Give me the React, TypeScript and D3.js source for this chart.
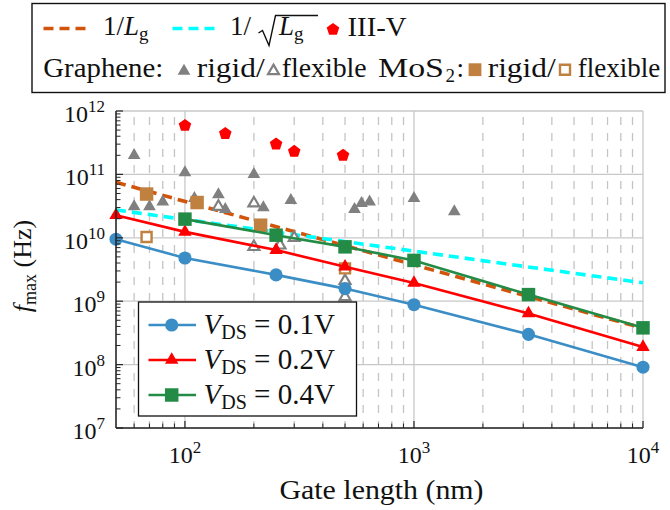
import React from 'react';
import * as d3 from 'd3';

// ---------- data ----------
const gateLength = [50, 100, 250, 500, 1000, 3162, 10000];
const fmaxVds01 = [9.5e9, 4.8e9, 2.6e9, 1.58e9, 8.8e8, 3.0e8, 9.1e7];
const fmaxVds02 = [2.27e10, 1.24e10, 6.4e9, 3.5e9, 1.94e9, 6.4e8, 1.89e8];
const gateLengthVds04 = [100, 250, 500, 1000, 3162, 10000];
const fmaxVds04 = [1.97e10, 1.1e10, 7.2e9, 4.4e9, 1.27e9, 3.8e8];

const refLineLg = [50, 10000];
const refInvLg = [7.5e10, 3.75e8];
const refInvSqrtLg = [2.75e10, 1.95e9];

const iiivLg = [100, 150, 250, 300, 490];
const iiivF = [5.9e11, 4.4e11, 3.0e11, 2.3e11, 2.0e11];

const grRigidLg = [60, 100, 200, 60, 70, 80, 110, 140, 150, 220, 290, 550, 590, 640, 1000, 1500];
const grRigidF = [2.0e11, 1.07e11, 1.0e11, 3.1e10, 3.1e10, 3.7e10, 4.2e10, 4.8e10, 2.8e10, 3.0e10, 3.9e10, 2.8e10, 3.5e10, 3.7e10, 4.2e10, 2.6e10];

const grFlexLg = [140, 200, 200, 260, 300, 500, 500];
const grFlexF = [3.1e10, 3.5e10, 7.2e9, 7.6e9, 1.0e10, 2.1e9, 1.17e9];

const mosRigidLg = [68, 113, 214];
const mosRigidF = [4.9e10, 3.6e10, 1.58e10];

const mosFlexLg = [68, 500];
const mosFlexF = [1.03e10, 3.3e9];

const xTickExps = [2, 3, 4];
const yTickExps = [7, 8, 9, 10, 11, 12];
const vdsLabels = ['0.1V', '0.2V', '0.4V'];

// ---------- styling ----------
const FONT = '"Liberation Serif", "Times New Roman", Times, serif';
const TXT = { fontFamily: FONT };
const BLUE = '#3b8ec5';
const RED = '#ff0000';
const GREEN = '#238b45';
const ORANGE = '#d2540a';
const CYAN = '#00ffff';
const BROWN = '#bf8040';
const GRAY = '#808080';

const W = 670;
const H = 510;
const PL = 116, PR = 643, PT = 111, PB = 428;

const x = d3.scaleLog().domain([50, 1e4]).range([PL, PR]);
const y = d3.scaleLog().domain([1e7, 1e12]).range([PB, PT]);

const zip = (a: number[], b: number[]) => a.map((v, i) => [v, b[i]] as [number, number]);
const line = d3.line<[number, number]>().x(d => x(d[0])).y(d => y(d[1]));

const triPath = d3.symbol().type(d3.symbolTriangle).size(70)() as string;
const triHollowPath = d3.symbol().type(d3.symbolTriangle).size(52)() as string;
const sqPath = d3.symbol().type(d3.symbolSquare).size(182)() as string;
const sqHollowPath = d3.symbol().type(d3.symbolSquare).size(100)() as string;
const circPath = d3.symbol().type(d3.symbolCircle).size(135)() as string;
const redTriPath = d3.symbol().type(d3.symbolTriangle).size(78)() as string;

function pentagon(R: number) {
  const pts: string[] = [];
  for (let k = 0; k < 5; k++) {
    const a = (-90 + k * 72) * Math.PI / 180;
    pts.push(`${(R * Math.cos(a)).toFixed(2)},${(R * Math.sin(a)).toFixed(2)}`);
  }
  return 'M' + pts.join('L') + 'Z';
}
const pentPath = pentagon(6.6);

export default function App() {
  const minorX: number[] = [];
  [10, 100, 1000].forEach(d => {
    for (let m = 2; m <= 9; m++) {
      const v = m * d;
      if (v > 50 && v < 1e4) minorX.push(v);
    }
  });
  const minorY: number[] = [];
  [1e7, 1e8, 1e9, 1e10, 1e11].forEach(d => {
    for (let m = 2; m <= 9; m++) minorY.push(m * d);
  });

  const series = [
    { lg: gateLength, f: fmaxVds01, color: BLUE, marker: circPath },
    { lg: gateLength, f: fmaxVds02, color: RED, marker: redTriPath },
    { lg: gateLengthVds04, f: fmaxVds04, color: GREEN, marker: sqPath },
  ];

  const SG = 'spacingAndGlyphs';

  return (
    <svg width={W} height={H} viewBox={`0 0 ${W} ${H}`}
      style={{ position: 'absolute', left: 0, top: 0, background: '#fff', fontFamily: FONT }}>
      <rect x={0} y={0} width={W} height={H} fill="#fff" />

      {/* minor vertical grid (dashed) */}
      {minorX.map(v => (
        <line key={'mx' + v} x1={x(v)} x2={x(v)} y1={PT} y2={PB}
          stroke="#c4c4c4" strokeWidth={1.3} strokeDasharray="8 8" strokeDashoffset={-6} />
      ))}
      {/* major grid */}
      {yTickExps.map(e => (
        <line key={'gy' + e} x1={PL} x2={PR} y1={y(Math.pow(10, e))} y2={y(Math.pow(10, e))}
          stroke="#c8c8c8" strokeWidth={1.3} />
      ))}
      {xTickExps.map(e => (
        <line key={'gx' + e} x1={x(Math.pow(10, e))} x2={x(Math.pow(10, e))} y1={PT} y2={PB}
          stroke="#c8c8c8" strokeWidth={1.3} />
      ))}

      {/* reference scaling lines */}
      <path d={line(zip(refLineLg, refInvLg)) as string} fill="none" stroke={ORANGE}
        strokeWidth={3.6} strokeDasharray="10 6" />
      <path d={line(zip(refLineLg, refInvSqrtLg)) as string} fill="none" stroke={CYAN}
        strokeWidth={3.6} strokeDasharray="10 6" />

      {/* literature scatter */}
      {zip(grRigidLg, grRigidF).map((d, i) => (
        <path key={'gr' + i} d={triPath} transform={`translate(${x(d[0])},${y(d[1])})`} fill={GRAY} />
      ))}
      {zip(grFlexLg, grFlexF).map((d, i) => (
        <path key={'gf' + i} d={triHollowPath} transform={`translate(${x(d[0])},${y(d[1])})`}
          fill="#fff" stroke={GRAY} strokeWidth={2.2} />
      ))}
      {zip(mosRigidLg, mosRigidF).map((d, i) => (
        <path key={'mr' + i} d={sqPath} transform={`translate(${x(d[0])},${y(d[1])})`} fill={BROWN} />
      ))}
      {zip(mosFlexLg, mosFlexF).map((d, i) => (
        <path key={'mf' + i} d={sqHollowPath} transform={`translate(${x(d[0])},${y(d[1])})`}
          fill="#fff" stroke={BROWN} strokeWidth={2.4} />
      ))}
      {zip(iiivLg, iiivF).map((d, i) => (
        <path key={'iv' + i} d={pentPath} transform={`translate(${x(d[0])},${y(d[1])})`} fill={RED} />
      ))}

      {/* simulated series */}
      {series.map((s, si) => (
        <g key={'s' + si}>
          <path d={line(zip(s.lg, s.f)) as string} fill="none" stroke={s.color} strokeWidth={2.6} />
          {zip(s.lg, s.f).map((d, i) => (
            <path key={i} d={s.marker} transform={`translate(${x(d[0])},${y(d[1])})`} fill={s.color} />
          ))}
        </g>
      ))}

      {/* axes */}
      <line x1={PL} x2={PL} y1={PT} y2={PB} stroke="#262626" strokeWidth={1.6} />
      <line x1={PL} x2={PR} y1={PB} y2={PB} stroke="#262626" strokeWidth={1.6} />
      {minorY.map(v => (
        <line key={'ty' + v} x1={PL} x2={PL + 4.5} y1={y(v)} y2={y(v)} stroke="#262626" strokeWidth={1} />
      ))}
      {yTickExps.map(e => (
        <line key={'tY' + e} x1={PL} x2={PL + 7} y1={y(Math.pow(10, e))} y2={y(Math.pow(10, e))} stroke="#262626" strokeWidth={1.2} />
      ))}
      {minorX.map(v => (
        <line key={'tx' + v} x1={x(v)} x2={x(v)} y1={PB} y2={PB - 4.5} stroke="#262626" strokeWidth={1} />
      ))}
      {xTickExps.map(e => (
        <line key={'tX' + e} x1={x(Math.pow(10, e))} x2={x(Math.pow(10, e))} y1={PB} y2={PB - 7} stroke="#262626" strokeWidth={1.2} />
      ))}

      {/* tick labels */}
      {yTickExps.map(e => (
        <text key={'ly' + e} x={105} y={y(Math.pow(10, e)) + 11} textAnchor="end" fontSize={24} fill="#111" style={TXT}>
          10<tspan dy={-10} fontSize={17}>{e}</tspan>
        </text>
      ))}
      {xTickExps.map(e => (
        <text key={'lx' + e} x={x(Math.pow(10, e))} y={463} textAnchor="middle" fontSize={24} fill="#111" style={TXT}>
          10<tspan dy={-10} fontSize={17}>{e}</tspan>
        </text>
      ))}

      {/* axis titles */}
      <text x={381.5} y={499} textAnchor="middle" fontSize={27} fill="#111" style={TXT}
        textLength={204} lengthAdjust={SG}>Gate length (nm)</text>
      <text transform="translate(31,266) rotate(-90)" textAnchor="middle" fontSize={26} fill="#111" style={TXT}>
        <tspan fontStyle="italic">f</tspan>
        <tspan fontSize={18} dy={5}>max</tspan>
        <tspan dy={-5}> (Hz)</tspan>
      </text>

      {/* bottom-left legend */}
      <rect x={138.5} y={302} width={218} height={114} fill="#fff" stroke="#111" strokeWidth={1.3} />
      {series.map((s, i) => {
        const cy = 325 + i * 35;
        return (
          <g key={'lg' + i}>
            <line x1={148.5} x2={196} y1={cy} y2={cy} stroke={s.color} strokeWidth={2.6} />
            <path d={s.marker} transform={`translate(171.7,${cy})`} fill={s.color} />
            <text x={203.5} y={cy + 9} fontSize={29} fill="#111" style={TXT}>
              <tspan fontStyle="italic">V</tspan>
              <tspan fontSize={20} dy={5}>DS</tspan>
              <tspan dy={-5}> = {vdsLabels[i]}</tspan>
            </text>
          </g>
        );
      })}

      {/* top legend */}
      <rect x={32} y={3.5} width={633} height={89} fill="#fff" stroke="#111" strokeWidth={1.4} />
      <line x1={43.5} x2={86} y1={28.5} y2={28.5} stroke={ORANGE} strokeWidth={3.6} strokeDasharray="10 6" />
      <text x={103} y={35} fontSize={27} fill="#111" style={TXT}>
        1/<tspan fontStyle="italic">L</tspan><tspan fontSize={19} dy={5}>g</tspan>
      </text>
      <line x1={172.5} x2={215} y1={28.5} y2={28.5} stroke={CYAN} strokeWidth={3.6} strokeDasharray="10 6" />
      <text x={230} y={35} fontSize={27} fill="#111" style={TXT}>1/</text>
      <path d="M258.5,33 L262.5,30.5 L269,45.5 L275.5,15.5 L318,15.5" fill="none" stroke="#111" strokeWidth={1.4} />
      <text x={279} y={35} fontSize={27} fill="#111" style={TXT}>
        <tspan fontStyle="italic">L</tspan><tspan fontSize={19} dy={5}>g</tspan>
      </text>
      <path d={pentPath} transform="translate(333,29.5)" fill={RED} />
      <text x={347.5} y={35.5} fontSize={27} fill="#111" style={TXT} textLength={59} lengthAdjust={SG}>III-V</text>

      <text x={43.3} y={77.3} fontSize={27} fill="#111" style={TXT} textLength={120} lengthAdjust={SG}>Graphene:</text>
      <path d={triPath} transform="translate(184,71)" fill={GRAY} />
      <text x={196.7} y={77.3} fontSize={27} fill="#111" style={TXT} textLength={68} lengthAdjust={SG}>rigid/</text>
      <path d={triHollowPath} transform="translate(273.5,71)" fill="#fff" stroke={GRAY} strokeWidth={2.2} />
      <text x={281.7} y={77.3} fontSize={27} fill="#111" style={TXT} textLength={85} lengthAdjust={SG}>flexible</text>
      <text x={378} y={77.3} fontSize={27} fill="#111" style={TXT} textLength={66} lengthAdjust={SG}>MoS</text>
      <text x={445.5} y={82.3} fontSize={19} fill="#111" style={TXT}>2</text>
      <text x={456.5} y={77.3} fontSize={27} fill="#111" style={TXT}>:</text>
      <path d={sqPath} transform="translate(475,69.7) scale(0.95)" fill={BROWN} />
      <text x={487.7} y={77.3} fontSize={27} fill="#111" style={TXT} textLength={68} lengthAdjust={SG}>rigid/</text>
      <path d={sqHollowPath} transform="translate(565,69.7)" fill="#fff" stroke={BROWN} strokeWidth={2.4} />
      <text x={577.7} y={77.3} fontSize={27} fill="#111" style={TXT} textLength={82.5} lengthAdjust={SG}>flexible</text>
    </svg>
  );
}
